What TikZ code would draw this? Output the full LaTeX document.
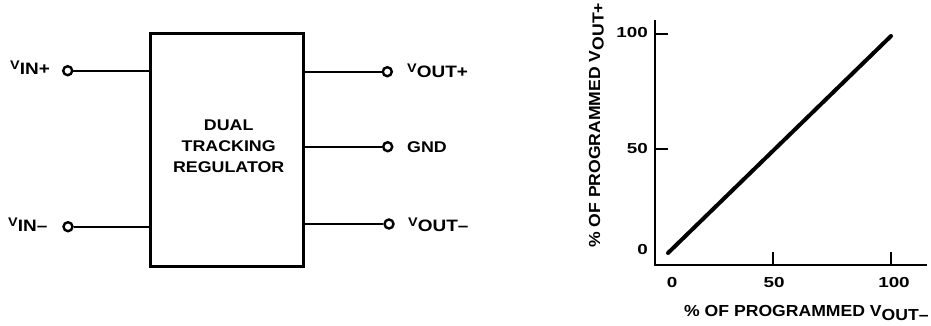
\documentclass[tikz,border=0pt]{standalone}
\usepackage{fontspec}
\setmainfont{Liberation Sans}
\newfontfamily\boxfont[FakeStretch=1.15]{Liberation Sans}
\newfontfamily\tickfont[FakeStretch=1.3]{Liberation Sans}
\newfontfamily\axfont[FakeStretch=1.1]{Liberation Sans}
\newcommand\pinV[1]{{\fontsize{12.5}{12.5}\selectfont\raisebox{5pt}{V}}{\fontsize{16.5}{16.5}\selectfont #1}}
\begin{document}
\begin{tikzpicture}[x=1pt,y=-1pt,
  pinc/.style={circle,draw,line width=2.4pt,minimum size=9pt,inner sep=0pt},
  wire/.style={line width=2pt},
  pinlab/.style={inner sep=0pt,font=\boxfont\bfseries},
  axisline/.style={line width=2.3pt},
  ticklab/.style={inner sep=0pt,font=\tickfont\bfseries\fontsize{14.5}{14.5}\selectfont},
  axlab/.style={inner sep=0pt,font=\axfont\bfseries\fontsize{16}{16}\selectfont}]
\useasboundingbox (0,0) rectangle (931,325);
% regulator block
\node[draw,line width=3.4pt,minimum width=153pt,minimum height=233pt,inner sep=0pt] (reg) at (226.8,150) {};
\node[align=center,inner sep=0pt,font=\boxfont\bfseries\fontsize{15.5}{21}\selectfont] (txt) at (228.7,146) {DUAL\\TRACKING\\REGULATOR};
% pins
\node[pinc] (vinp) at (67.7,70.7) {};
\node[pinc] (vinm) at (68,226.7) {};
\node[pinc] (voutp) at (387.3,71.7) {};
\node[pinc] (gnd) at (387.7,146.7) {};
\node[pinc] (voutm) at (389,224) {};
\draw[wire] (vinp) -- (vinp -| reg.west);
\draw[wire] (vinm) -- (vinm -| reg.west);
\draw[wire] (voutp -| reg.east) -- (voutp);
\draw[wire] (gnd -| reg.east) -- (gnd);
\draw[wire] (voutm -| reg.east) -- (voutm);
\node[pinlab,anchor=base west] (lvinp) at (10,74) {\pinV{IN+}};
\node[pinlab,anchor=base west] (lvinm) at (8,231) {\pinV{IN–}};
\node[pinlab,anchor=base west] (lvoutp) at (407,77) {\pinV{OUT+}};
\node[pinlab,anchor=west,font=\boxfont\bfseries\fontsize{15.5}{15.5}\selectfont] (lgnd) at (407,146.7) {GND};
\node[pinlab,anchor=base west] (lvoutm) at (408,231) {\pinV{OUT–}};
% plot axes
\coordinate (ytop) at (655,20);
\coordinate (orig) at (655,265);
\coordinate (xend) at (927,265);
\draw[axisline] (ytop) -- (orig) -- (xend);
\coordinate (y50a) at (655,149); \coordinate (y50b) at (668,149);
\coordinate (y100a) at (655,34); \coordinate (y100b) at (668,34);
\coordinate (x50a) at (773,265); \coordinate (x50b) at (773,252);
\coordinate (x100a) at (891,265); \coordinate (x100b) at (891,252);
\draw[axisline] (y50a) -- (y50b);
\draw[axisline] (y100a) -- (y100b);
\draw[axisline] (x50a) -- (x50b);
\draw[axisline] (x100a) -- (x100b);
\coordinate (p0) at (668,253);
\coordinate (p1) at (891,36);
\draw[line width=4pt,line cap=round] (p0) -- (p1);
% tick labels
\node[ticklab,anchor=east] (ty100) at (648,33) {100};
\node[ticklab,anchor=east] (ty50) at (648,149) {50};
\node[ticklab,anchor=east] (ty0) at (648,250) {0};
\node[ticklab] (tx0) at (672,283) {0};
\node[ticklab] (tx50) at (774,283) {50};
\node[ticklab] (tx100) at (894,283) {100};
% axis labels
\node[axlab,anchor=base west] (xlab) at (684,316.5) {\% OF PROGRAMMED V\raisebox{-3.5pt}{OUT–}};
\node[axlab,anchor=base west,rotate=90] (ylab) at (600,248) {\% OF PROGRAMMED V\raisebox{-3.5pt}{OUT+}};
\end{tikzpicture}
\end{document}
